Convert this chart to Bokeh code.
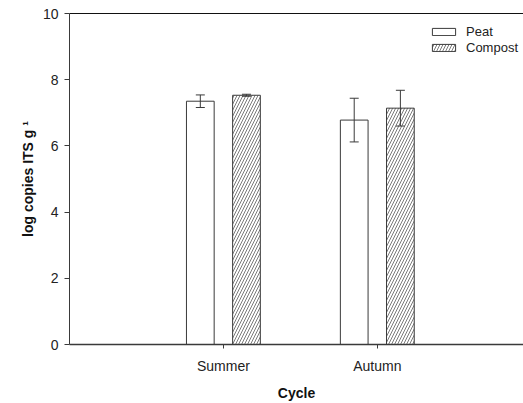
from bokeh.plotting import figure
from bokeh.models import (ColumnDataSource, Range1d, FixedTicker, LinearAxis,
                          Whisker, TeeHead, Legend, LegendItem)
from bokeh.embed import file_html
from bokeh.resources import INLINE

# Mean log copies per cycle and substrate, with error bar half-widths
cycles = ["Summer", "Autumn"]
peat = [7.35, 6.78]
peat_err = [0.19, 0.66]
compost = [7.53, 7.14]
compost_err = [0.03, 0.54]
y_ticks = [0, 2, 4, 6, 8, 10]

FONT = "Liberation Sans"
DARK = "#3a3a3a"

centers = [i + 1 for i in range(len(cycles))]
offset = 0.15
bar_w = 0.18


def make_source(vals, errs, shift):
    return ColumnDataSource(dict(
        x=[c + shift for c in centers],
        top=vals,
        upper=[v + e for v, e in zip(vals, errs)],
        lower=[v - e for v, e in zip(vals, errs)],
    ))


src_peat = make_source(peat, peat_err, -offset)
src_comp = make_source(compost, compost_err, offset)

p = figure(width=523, height=403, output_backend="svg", toolbar_location=None,
           x_range=Range1d(0, 2.95), y_range=Range1d(0, 10),
           min_border_left=69, min_border_right=0, min_border_top=13,
           min_border_bottom=58, outline_line_color=None,
           background_fill_color="white", border_fill_color="white")
p.grid.visible = False

r_peat = p.vbar(x="x", top="top", width=bar_w, source=src_peat,
                fill_color="white", line_color=DARK, line_width=1)
r_comp = p.vbar(x="x", top="top", width=bar_w, source=src_comp,
                fill_color="white", line_color=DARK, line_width=1,
                hatch_pattern="/", hatch_color="#7a7a7a", hatch_scale=6,
                hatch_weight=1)

for src in (src_peat, src_comp):
    p.add_layout(Whisker(source=src, base="x", upper="upper", lower="lower",
                         dimension="height", line_color=DARK, line_width=1,
                         level="overlay",
                         upper_head=TeeHead(size=9, line_color=DARK, line_width=1),
                         lower_head=TeeHead(size=9, line_color=DARK, line_width=1)))

# x axis
xa = p.xaxis[0]
xa.ticker = FixedTicker(ticks=centers)
xa.major_label_overrides = {c: name for c, name in zip(centers, cycles)}
xa.axis_label = "Cycle"
xa.minor_tick_line_color = None
xa.major_tick_in = 0
xa.major_tick_out = 4
xa.major_label_standoff = 9
xa.axis_label_standoff = 8
xa.axis_line_width = 1.5

# y axis
ya = p.yaxis[0]
ya.ticker = FixedTicker(ticks=y_ticks)
ya.axis_label = "log copies ITS g \u00b9"
ya.minor_tick_line_color = None
ya.major_tick_in = 0
ya.major_tick_out = 5
ya.major_label_standoff = 6
ya.axis_label_standoff = 4

for ax in (xa, ya):
    ax.axis_line_color = DARK
    ax.major_tick_line_color = DARK
    ax.major_label_text_font = FONT
    ax.major_label_text_font_size = "14px"
    ax.major_label_text_color = "#222222"
    ax.axis_label_text_font = FONT
    ax.axis_label_text_font_size = "14px"
    ax.axis_label_text_font_style = "bold"
    ax.axis_label_text_color = "#111111"

# plain line along the top of the plot area
top_axis = LinearAxis(ticker=FixedTicker(ticks=[]), axis_line_color="#111111",
                      axis_line_width=1.2, major_tick_line_color=None,
                      minor_tick_line_color=None,
                      major_label_text_font_size="0px")
p.add_layout(top_axis, "above")

legend = Legend(items=[LegendItem(label="Peat", renderers=[r_peat]),
                       LegendItem(label="Compost", renderers=[r_comp])],
                location=(360, 289), padding=0, spacing=1,
                glyph_width=29, glyph_height=9, label_height=15,
                label_standoff=8, border_line_color=None,
                background_fill_alpha=0, label_text_font=FONT,
                label_text_font_size="13px", label_text_color="#222222")
p.add_layout(legend)

open("out.html", "w").write(file_html(p, INLINE))
